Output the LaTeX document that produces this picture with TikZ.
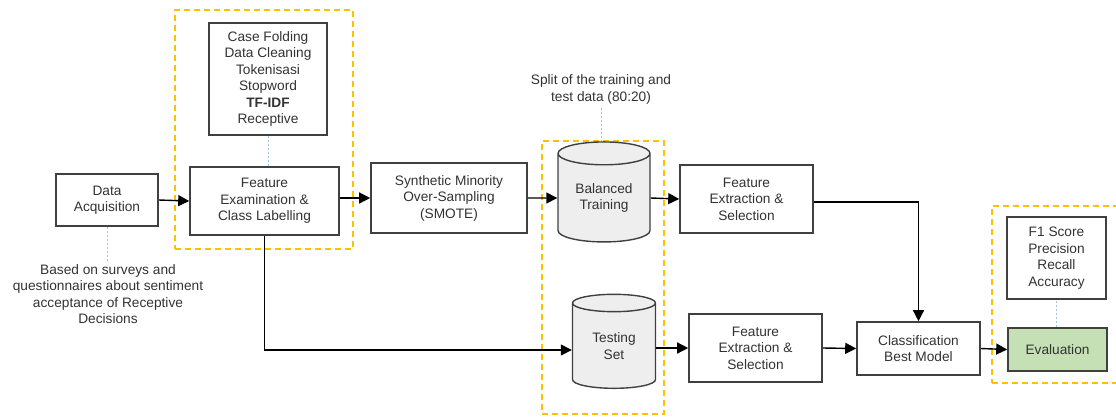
\documentclass[tikz,border=0pt]{standalone}
\usepackage{fontspec}
\setmainfont{Liberation Sans}
\usepackage{tikz}
\usetikzlibrary{arrows.meta, shapes.geometric}
\definecolor{boxgray}{HTML}{404040}
\definecolor{txtgray}{HTML}{333333}
\definecolor{grpyellow}{HTML}{FFC000}
\definecolor{noteblue}{HTML}{9DC3E6}
\definecolor{evalgreen}{HTML}{C5E0B4}
\definecolor{dbgray}{HTML}{EEEEEE}

\begin{document}
\begin{tikzpicture}[x=1pt, y=-1pt,
  every node/.style={font=\fontsize{13.7}{16.5}\selectfont, text=txtgray},
  stage/.style={draw=boxgray, line width=1.6pt, fill=white, align=center, inner sep=0pt},
  dbase/.style={cylinder, shape border rotate=90, aspect=0.4, draw=boxgray, line width=1.4pt,
    fill=dbgray, align=center, inner sep=0pt},
  group/.style={draw=grpyellow, line width=1.6pt, dash pattern=on 6pt off 4pt, inner sep=0pt},
  link/.style={-{Triangle[length=11pt, width=11pt]}, line width=1.4pt, black},
  noteline/.style={draw=noteblue, line width=0.9pt, dash pattern=on 2pt off 2pt}]
  \useasboundingbox (0,0) rectangle (1116,416);
  \clip (0,0) rectangle (1116,416);
  \node[group, minimum width=178, minimum height=239] (grpPrep) at (264,129.5) {};
  \node[group, minimum width=122, minimum height=273] (grpSplit) at (603,277.5) {};
  \node[group, minimum width=140, minimum height=177] (grpEval) at (1062,294.5) {};
  \node[stage, minimum width=102, minimum height=52] (acq) at (107,200) {Data\\Acquisition};
  \node[align=center] (acqnote) at (108,294) {Based on surveys and\\questionnaires about sentiment\\acceptance of Receptive\\Decisions};
  \node[stage, minimum width=118, minimum height=112] (prep) at (268,79) {Case Folding\\Data Cleaning\\Tokenisasi\\Stopword\\\textbf{TF-IDF}\\Receptive};
  \node[stage, minimum width=149, minimum height=68] (label) at (264.5,201) {Feature\\Examination \&\\Class Labelling};
  \node[stage, minimum width=156, minimum height=70] (smote) at (449,198) {Synthetic Minority\\Over-Sampling\\(SMOTE)};
  \node[align=center] (split) at (601,89.5) {Split of the training and\\test data (80:20)};
  \node[dbase, minimum width=92, minimum height=100] (train) at (604,198) {Balanced\\Training};
  \node[dbase, minimum width=83, minimum height=94] (test) at (614,346) {Testing\\Set};
  \node[stage, minimum width=133, minimum height=68] (fetrain) at (746.5,199) {Feature\\Extraction \&\\Selection};
  \node[stage, minimum width=133, minimum height=68] (fetest) at (755.5,348) {Feature\\Extraction \&\\Selection};
  \node[stage, minimum width=123, minimum height=53] (model) at (918.5,348.5) {Classification\\Best Model};
  \node[stage, minimum width=99, minimum height=82] (metric) at (1056.5,258) {F1 Score\\Precision\\Recall\\Accuracy};
  \node[stage, fill=evalgreen, minimum width=99, minimum height=43] (eval) at (1057.5,349.5) {Evaluation};
  \draw[noteline] (acq.south) -- (acq.south |- acqnote.north);
  \draw[noteline] (prep.south) -- (prep.south |- label.north);
  \draw[noteline] (split.south) -- (split.south |- grpSplit.north);
  \draw[noteline] (eval.north -| metric.south) -- (metric.south);
  \draw[link] (acq.east) -- (label.west);
  \draw[link] (label.east |- smote.west) -- (smote.west);
  \draw[link] (smote.east) -- (train.west);
  \draw[link] (train.east) -- (fetrain.west);
  \draw[link] ([yshift=-3pt]fetrain.east) -| (model.north);
  \draw[link] (label.south) |- ([yshift=-4pt]test.west);
  \draw[link] (test.east |- fetest.west) -- (fetest.west);
  \draw[link] (fetest.east) -- (model.west);
  \draw[link] (model.east) -- (eval.west);
\end{tikzpicture}
\end{document}
